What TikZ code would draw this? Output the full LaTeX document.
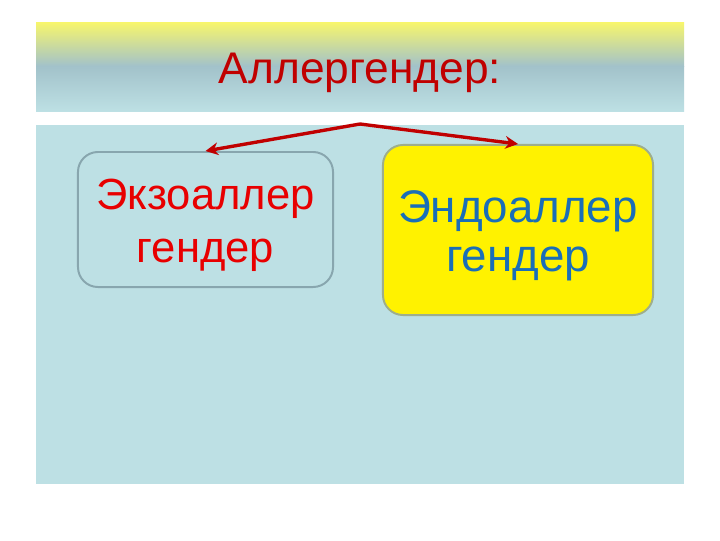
\documentclass[tikz,border=0pt]{standalone}
\usepackage{fontspec}
\setmainfont{Liberation Sans}
\usetikzlibrary{arrows.meta}
\definecolor{titlered}{HTML}{C00000}
\definecolor{exored}{HTML}{E80000}
\definecolor{endoblue}{HTML}{1A6EB8}
\definecolor{panelblue}{HTML}{BDE0E4}
\definecolor{barblue}{HTML}{A2C2CA}
\definecolor{baryellow}{HTML}{F8F66C}
\definecolor{exoline}{HTML}{88A6AE}
\definecolor{endoline}{HTML}{9EAE8C}

\begin{document}
\begin{tikzpicture}[x=0.025cm, y=-0.025cm,
    titletext/.style={anchor=base, inner sep=0pt, text=titlered,
      font=\fontsize{31.5}{36}\selectfont},
    exobox/.style={draw=exoline, line width=1.4pt, rounded corners=0.5cm,
      minimum width=6.375cm, minimum height=3.375cm},
    endobox/.style={draw=endoline, fill=yellow, line width=1.4pt, rounded corners=0.5cm,
      minimum width=6.75cm, minimum height=4.25cm},
    exotext/.style={align=center, text=exored, font=\fontsize{31}{37.6}\selectfont},
    endotext/.style={align=center, text=endoblue, font=\fontsize{32.5}{34.7}\selectfont},
    branch/.style={draw=titlered, line width=2.4pt, -{Stealth[length=9pt, width=9pt]}}]
    \useasboundingbox (0, 0) rectangle (720, 540);
    \fill[white] (0, 0) rectangle (720, 540);
    \shade[top color=baryellow, bottom color=barblue] (36, 22) rectangle (684, 66);
    \shade[top color=barblue, bottom color=panelblue] (36, 66) rectangle (684, 111);
    \node[titletext] (title) at (360, 83) {Аллергендер:};
    \fill[panelblue] (36, 125) rectangle (684, 484);
    \coordinate (apex) at (360, 124);
    \node[exobox] (exo) at (205.5, 219.5) {};
    \node[exotext] (exolabel) at (205.5, 225) {Экзоаллер\\гендер};
    \node[endobox] (endo) at (518, 230) {};
    \node[endotext] (endolabel) at (518, 236) {Эндоаллер\\гендер};
    \draw[branch] (apex) -- (exo.north);
    \draw[branch] (apex) -- (endo.north);
  \end{tikzpicture}
\end{document}
